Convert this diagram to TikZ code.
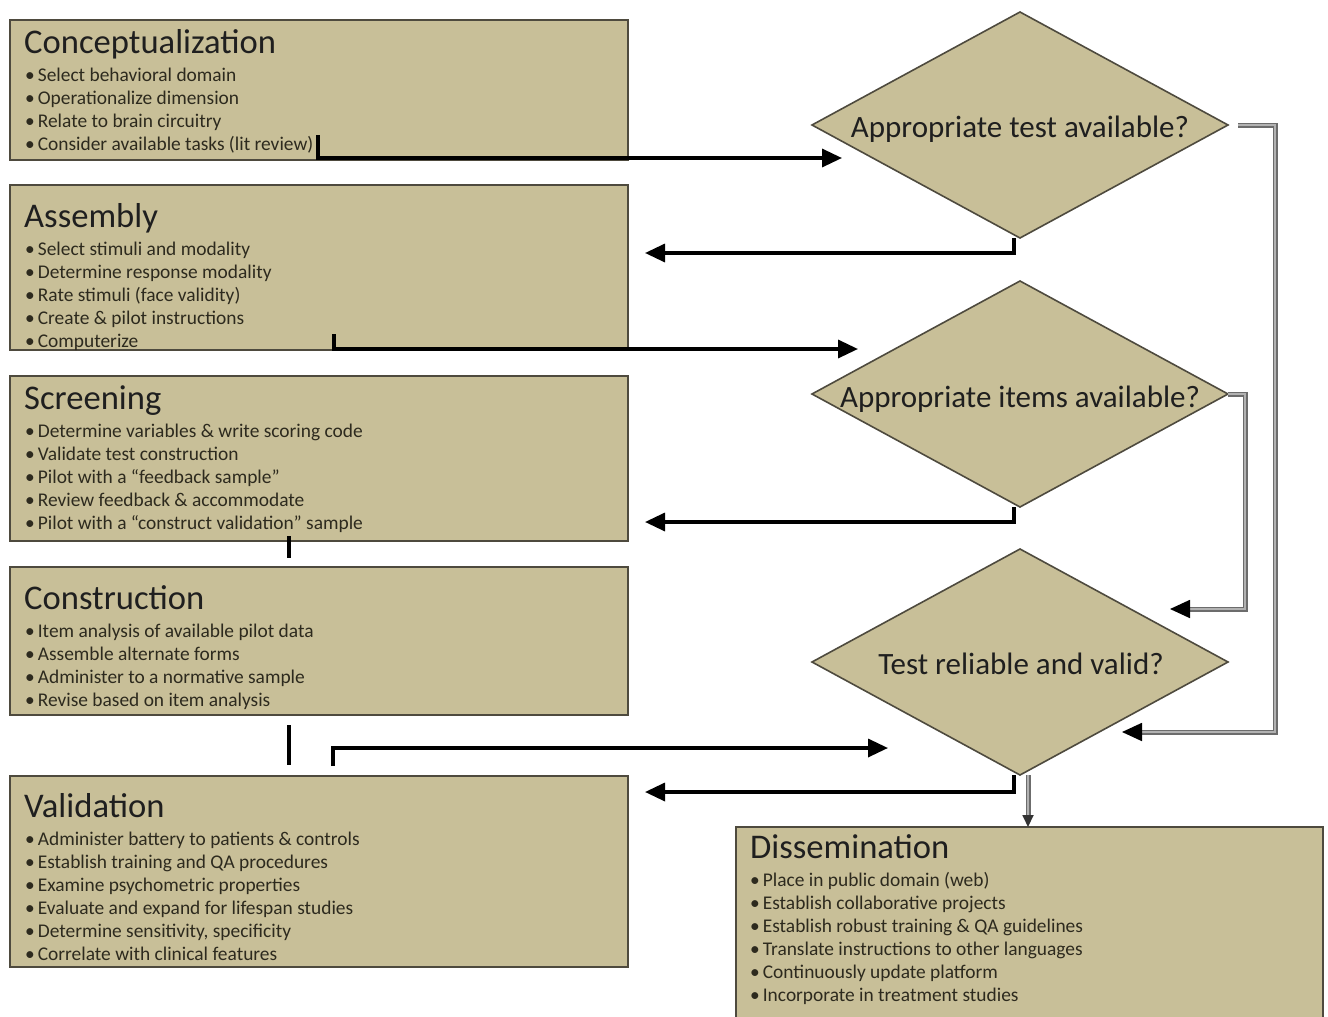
\documentclass[tikz,border=0pt]{standalone}
\usepackage{fontspec}
\setmainfont{Carlito}
\usetikzlibrary{arrows.meta,shapes.geometric}
\definecolor{tanfill}{RGB}{200,191,152}
\definecolor{edgecol}{RGB}{78,74,62}
\definecolor{txtcol}{RGB}{45,42,30}
\newcommand\mylines[4]{\foreach \t [count=\i] in {#4} {\node[bul] (#1\i) at (#2, #3+23*\i-23) {•\hspace{3pt}\t};}}
\begin{document}
\begin{tikzpicture}[x=1pt,y=-1pt,
  box/.style={draw=edgecol, line width=2pt, fill=tanfill, anchor=north west, inner sep=0pt, outer sep=0pt},
  dia/.style={diamond, draw=edgecol, line width=1.6pt, fill=tanfill, inner sep=0pt, outer sep=0pt, minimum width=416pt, minimum height=226pt},
  ttl/.style={anchor=base west, font=\fontsize{34.6}{36}\selectfont, inner sep=0pt, text=black!88},
  bul/.style={anchor=base west, font=\fontsize{19.4}{22}\selectfont, inner sep=0pt, text=txtcol},
  dtxt/.style={anchor=base, font=\fontsize{31}{34}\selectfont, inner sep=0pt, text=black!88},
  blk/.style={draw=black, line width=3.4pt},
  gry/.style={draw=gray!85!black, line width=1.8pt, double=gray!60, double distance=1.4pt},
  tip/.style={-{Triangle[length=20pt,width=18pt,color=black]}}
]
\useasboundingbox (0,0) rectangle (1328,1017);
\fill[white] (0,0) rectangle (1328,1017);

% boxes
\node[box, minimum width=618pt, minimum height=140pt] (b1) at (10,20) {};
\node[box, minimum width=618pt, minimum height=165pt] (b2) at (10,185) {};
\node[box, minimum width=618pt, minimum height=165pt] (b3) at (10,376) {};
\node[box, minimum width=618pt, minimum height=148pt] (b4) at (10,567) {};
\node[box, minimum width=618pt, minimum height=191pt] (b5) at (10,776) {};
\node[box, minimum width=587pt, minimum height=192pt] (b6) at (736,827) {};

\node[ttl] (t1) at (24,53) {Conceptualization};
\mylines{la}{25}{81}{Select behavioral domain, Operationalize dimension, Relate to brain circuitry, Consider available tasks (lit review)}
\node[ttl] (t2) at (24,227) {Assembly};
\mylines{lb}{25}{255}{Select stimuli and modality, Determine response modality, Rate stimuli (face validity), Create \& pilot instructions, Computerize}
\node[ttl] (t3) at (24,409) {Screening};
\mylines{lc}{25}{437}{Determine variables \& write scoring code, Validate test construction, Pilot with a “feedback sample”, Review feedback \& accommodate, Pilot with a “construct validation” sample}
\node[ttl] (t4) at (24,609) {Construction};
\mylines{ld}{25}{637}{Item analysis of available pilot data, Assemble alternate forms, Administer to a normative sample, Revise based on item analysis}
\node[ttl] (t5) at (24,817) {Validation};
\mylines{le}{25}{845}{Administer battery to patients \& controls, Establish training and QA procedures, Examine psychometric properties, Evaluate and expand for lifespan studies, {Determine sensitivity, specificity}, Correlate with clinical features}
\node[ttl] (t6) at (750,858) {Dissemination};
\mylines{lf}{750}{886}{Place in public domain (web), Establish collaborative projects, Establish robust training \& QA guidelines, Translate instructions to other languages, Continuously update platform, Incorporate in treatment studies}

% diamonds
\node[dia] (d1) at (1020,125) {};
\node[dtxt] (d1t) at (1020,137) {Appropriate test available?};
\node[dia] (d2) at (1020,394) {};
\node[dtxt] (d2t) at (1020,407) {Appropriate items available?};
\node[dia] (d3) at (1020,662) {};
\node[dtxt] (d3t) at (1021,674) {Test reliable and valid?};

% connector coordinates
\coordinate (a1s) at (318,135);
\coordinate (a1e) at (842,158);
\coordinate (a2e) at (645,253);
\coordinate (a3s) at (334,334);
\coordinate (a3e) at (858,349);
\coordinate (a4e) at (645,522);
\coordinate (r1s) at (289,536);
\coordinate (r1e) at (289,558);
\coordinate (r2s) at (289,725);
\coordinate (r2e) at (289,765);
\coordinate (a5s) at (333,766);
\coordinate (a5e) at (888,748);
\coordinate (a6e) at (645,792);
\coordinate (g2e) at (1122,732);
\coordinate (g3e) at (1170,609);

% black connectors
\draw[blk,tip] (a1s) |- (a1e);
\draw[blk,tip] ([xshift=-6pt]d1.south) |- (a2e);
\draw[blk,tip] (a3s) |- (a3e);
\draw[blk,tip] ([xshift=-6pt]d2.south) |- (a4e);
\draw[blk] (r1s) -- (r1e);
\draw[blk] (r2s) -- (r2e);
\draw[blk,tip] (a5s) |- (a5e);
\draw[blk,tip] ([xshift=-6pt]d3.south) |- (a6e);

% gray connectors
\draw[gry,-{Triangle[length=12pt,width=11pt,color=black!80]}] ([xshift=8pt]d3.south) -- ([xshift=8pt]d3.south |- b6.north);
\draw[gry,tip] ([xshift=10pt]d1.east) -- ++(37,0) |- (g2e);
\draw[gry,tip] (d2.east) -- ++(17,0) |- (g3e);
\end{tikzpicture}
\end{document}
